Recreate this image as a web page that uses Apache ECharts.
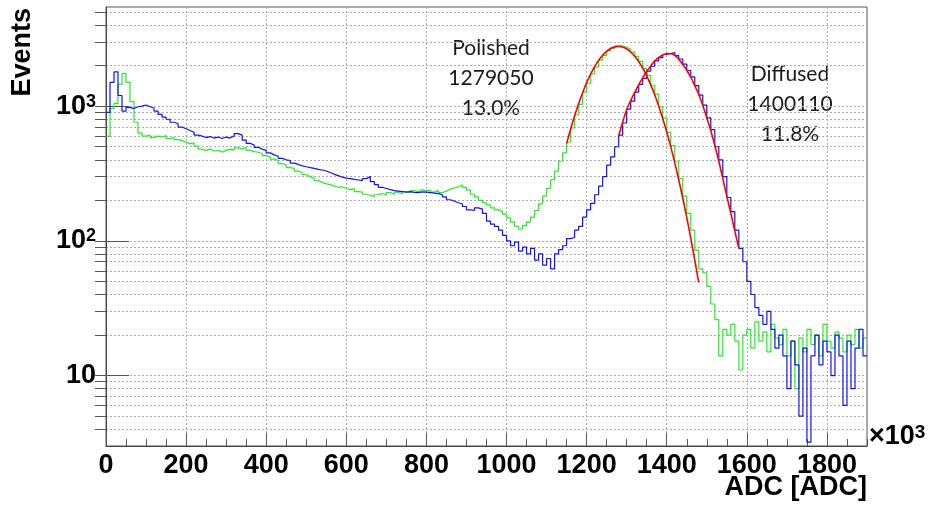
<!DOCTYPE html>
<html>
<head>
<meta charset="utf-8">
<script src="https://cdn.jsdelivr.net/npm/echarts@6/dist/echarts.min.js"></script>
<style>
  html, body { margin: 0; padding: 0; background: #fff; }
  #chart { width: 929px; height: 507px; }
</style>
</head>
<body>
<div id="chart"></div>
<script>
// bin width in ADC/1000, first bin starts at 0
const binWidth = 10;

// Polished (green) histogram, one row = 100 units
const polished = [
  600, 960, 1050, 1450, 1750, 1500, 1080, 760, 630, 600,
  610, 585, 600, 590, 605, 575, 585, 565, 555, 540,
  525, 535, 505, 480, 470, 480, 465, 470, 455, 470,
  480, 470, 490, 480, 495, 470, 460, 455, 445, 430,
  420, 405, 395, 375, 365, 350, 345, 330, 322, 310,
  300, 290, 280, 272, 265, 262, 255, 250, 252, 245,
  240, 244, 232, 230, 222, 218, 212, 220, 225, 218,
  228, 222, 230, 224, 232, 228, 236, 232, 240, 235,
  238, 230, 236, 228, 234, 242, 248, 252, 260, 250,
  238, 222, 212, 200, 192, 185, 176, 170, 165, 158,
  148, 138, 128, 122, 130, 138, 150, 168, 188, 215,
  245, 285, 330, 390, 450, 540, 690, 860, 1030, 1270,
  1480, 1740, 1950, 2200, 2380, 2570, 2680, 2790, 2800, 2740,
  2650, 2520, 2340, 2150, 1900, 1690, 1430, 1230, 990, 820,
  640, 510, 390, 290, 215, 160, 120, 85, 62, 58,
  46, 34, 26, 14, 22, 20, 24, 18, 11, 20,
  22, 16, 25, 18, 21, 15, 24, 19, 17, 22,
  14, 18, 8, 19, 15, 22, 17, 20, 14, 24,
  18, 16, 21, 19, 15, 20, 17, 22, 16, 19
];

// Diffused (blue) histogram
const diffused = [
  900, 1500, 1800, 1200, 920, 980, 960, 990, 1000, 1020,
  990, 970, 920, 870, 830, 800, 760, 740, 700, 680,
  660, 640, 610, 600, 585, 595, 580, 590, 575, 590,
  580, 600, 625, 610, 560, 530, 515, 495, 480, 470,
  450, 435, 425, 410, 400, 395, 378, 370, 360, 355,
  350, 345, 340, 336, 330, 322, 312, 305, 297, 292,
  290, 286, 283, 280, 290, 300, 275, 262, 250, 245,
  240, 236, 234, 232, 230, 232, 229, 228, 231, 230,
  228, 226, 224, 220, 212, 202, 197, 192, 188, 180,
  170, 168, 176, 172, 160, 140, 133, 128, 120, 110,
  100, 92, 98, 84, 90, 80, 88, 72, 80, 66,
  74, 62, 80, 86, 92, 104, 106, 120, 128, 150,
  170, 190, 220, 255, 300, 365, 420, 500, 610, 750,
  950, 1090, 1270, 1450, 1610, 1820, 1980, 2170, 2290, 2420,
  2460, 2500, 2370, 2240, 2050, 1840, 1650, 1420, 1210, 1020,
  820, 670, 500, 400, 300, 210, 165, 120, 88, 70,
  50, 40, 32, 28, 24, 30, 22, 16, 20, 14,
  8, 18, 12, 5, 16, 3.2, 14, 20, 12, 18,
  15, 10, 20, 14, 6, 18, 8, 16, 22, 14
];

// red fit curves, sampled every 10 units
const polishedFitStart = 1150;
const polishedFit = [
  527, 675, 847, 1043, 1259, 1490, 1727, 1963, 2187, 2388,
  2556, 2681, 2757, 2780, 2747, 2660, 2525, 2350, 2143, 1916,
  1679, 1442, 1215, 1002, 811, 643, 500, 381, 284, 208,
  149, 105, 72, 49
];
const diffusedFitStart = 1280;
const diffusedFit = [
  600, 760, 940, 1100, 1260, 1440, 1620, 1810, 1990, 2160,
  2300, 2400, 2450, 2450, 2380, 2230, 2040, 1850, 1640, 1420,
  1220, 1010, 820, 660, 510, 390, 290, 215, 160, 118, 88
];

const yLabelValues = [10, 100, 1000];
const yGridValues = [4, 5, 6, 7, 8, 9, 10, 20, 30, 40, 50, 60, 70, 80, 90,
  100, 200, 300, 400, 500, 600, 700, 800, 900, 1000, 2000, 3000, 4000, 5000];

const annotations = [
  { lines: ['Polished', '1279050', '13.0%'], x: 491, y: 48 },
  { lines: ['Diffused', '1400110', '11.8%'], x: 790, y: 74 }
];

const boldFont = '"Liberation Sans", Arial, sans-serif';

function histPairs(vals, start, step) {
  const out = vals.map((v, i) => [start + i * step, v]);
  out.push([start + vals.length * step, vals[vals.length - 1]]);
  return out;
}
function curvePairs(vals, start, step) {
  return vals.map((v, i) => [start + i * step, v]);
}

const graphics = [
  {
    type: 'text', x: 23, y: 8, rotation: Math.PI / 2,
    style: { text: 'Events', font: 'bold 27px ' + boldFont, align: 'right', verticalAlign: 'middle', fill: '#000' }
  },
  {
    type: 'text', x: 867, y: 488,
    style: { text: 'ADC [ADC]', font: 'bold 27px ' + boldFont, align: 'right', verticalAlign: 'middle', fill: '#000' }
  },
  {
    type: 'text', x: 869, y: 437,
    style: {
      text: '×10{s|3}', font: 'bold 27px ' + boldFont, align: 'left', verticalAlign: 'middle', fill: '#000',
      rich: { s: { font: 'bold 19px ' + boldFont, verticalAlign: 'top', fill: '#000' } }
    }
  }
];
annotations.forEach(a => {
  a.lines.forEach((t, i) => {
    graphics.push({
      type: 'text', x: a.x, y: a.y + i * 30,
      style: { text: t, font: '21px Lato, "Open Sans", sans-serif', align: 'center', verticalAlign: 'middle', fill: '#1a1a1a' }
    });
  });
});

const chart = echarts.init(document.getElementById('chart'));
chart.setOption({
  animation: false,
  backgroundColor: '#fff',
  grid: { left: 106, right: 62, top: 7, bottom: 61, show: true, borderColor: '#555', borderWidth: 1, outerBoundsMode: 'none' },
  xAxis: [
    {
      type: 'value', min: 0, max: 1900, interval: 200,
      axisLine: { show: true, lineStyle: { color: '#444' } },
      axisTick: { inside: true, length: 13, lineStyle: { color: '#555' } },
      axisLabel: {
        showMaxLabel: false, margin: 6, color: '#000',
        fontFamily: boldFont, fontWeight: 'bold', fontSize: 27,
        formatter: v => String(v)
      },
      splitLine: { show: true, lineStyle: { color: '#aaa', type: [2, 2] } }
    },
    {
      type: 'value', min: 0, max: 1900, interval: 50, position: 'bottom',
      axisLine: { show: false },
      axisTick: { inside: true, length: 7, lineStyle: { color: '#555' } },
      axisLabel: { show: false },
      splitLine: { show: false }
    }
  ],
  yAxis: [
    {
      type: 'log', logBase: 10, min: 3, max: 5450,
      axisLine: { show: true, lineStyle: { color: '#444' } },
      axisTick: { inside: true, length: 23, customValues: yLabelValues, lineStyle: { color: '#555' } },
      axisLabel: {
        customValues: yLabelValues, margin: 10, color: '#000',
        fontFamily: boldFont, fontWeight: 'bold', fontSize: 27,
        formatter: v => v === 10 ? '10' : '10{s|' + Math.round(Math.log10(v)) + '}',
        rich: { s: { fontFamily: boldFont, fontWeight: 'bold', fontSize: 18, verticalAlign: 'top', color: '#000' } }
      },
      splitLine: { show: false }
    },
    {
      type: 'log', logBase: 10, min: 3, max: 5450,
      axisLine: { show: false },
      axisTick: { inside: true, length: 11, customValues: yGridValues, lineStyle: { color: '#555' } },
      axisLabel: { show: false },
      splitLine: { show: true, lineStyle: { color: '#aaa', type: [2, 2] } }
    }
  ],
  graphic: graphics,
  series: [
    {
      name: 'Polished', type: 'line', step: 'end', showSymbol: false,
      data: histPairs(polished, 0, binWidth),
      lineStyle: { color: '#22ee22', width: 1.2 }, z: 3
    },
    {
      name: 'Diffused', type: 'line', step: 'end', showSymbol: false,
      data: histPairs(diffused, 0, binWidth),
      lineStyle: { color: '#1010ff', width: 1.2 }, z: 4
    },
    {
      name: 'Polished fit', type: 'line', smooth: true, showSymbol: false,
      data: curvePairs(polishedFit, polishedFitStart, binWidth),
      lineStyle: { color: '#ff0000', width: 1.6 }, z: 5
    },
    {
      name: 'Diffused fit', type: 'line', smooth: true, showSymbol: false,
      data: curvePairs(diffusedFit, diffusedFitStart, binWidth),
      lineStyle: { color: '#ff0000', width: 1.6 }, z: 5
    }
  ]
});
</script>
</body>
</html>
